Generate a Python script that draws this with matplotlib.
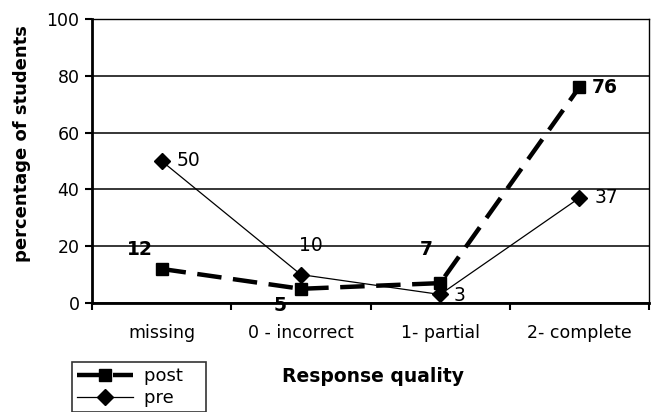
import numpy as np
import matplotlib.pyplot as plt
from matplotlib.lines import Line2D

plt.rcParams['font.family'] = ['DejaVu Sans']

categories = ['missing', '0 - incorrect', '1- partial', '2- complete']
post = [12, 5, 7, 76]
pre = [50, 10, 3, 37]

# label offsets in points (dx, dy) and horizontal alignment
post_lbl = [(-16, 14, 'center'), (-15, -12, 'center'), (-10, 24, 'center'), (9, 0, 'left')]
pre_lbl = [(11, 0, 'left'), (7, 21, 'center'), (10, -1, 'left'), (11, 0, 'left')]

fig = plt.figure(figsize=(6.51, 4.12), dpi=100)
ax = fig.add_axes([92 / 651, 1 - 303 / 412, (649 - 92) / 651, (303 - 19) / 412])

x = np.arange(len(categories))
post_style = dict(color='black', lw=3.2, ls=(0, (5.5, 2.6)), marker='s', ms=9)
pre_style = dict(color='black', lw=0.9, marker='D', ms=8.5)
ax.plot(x, post, label='post', zorder=3, **post_style)
ax.plot(x, pre, label='pre', zorder=4, **pre_style)

for xi, v, (dx, dy, ha) in zip(x, post, post_lbl):
    ax.annotate(str(v), (xi, v), xytext=(dx, dy), textcoords='offset points',
                ha=ha, va='center', fontsize=13.5, fontweight='bold')
for xi, v, (dx, dy, ha) in zip(x, pre, pre_lbl):
    ax.annotate(str(v), (xi, v), xytext=(dx, dy), textcoords='offset points',
                ha=ha, va='center', fontsize=13.5)

ax.set_xlim(-0.5, len(categories) - 0.5)
ax.set_ylim(0, 100)
ax.set_yticks(range(0, 101, 20))
ax.yaxis.grid(True, color='black', lw=1.1)
ax.set_axisbelow(True)

ax.set_xticks(x)
ax.set_xticklabels(categories, fontsize=12.5)
ax.tick_params(axis='x', length=0, pad=15)
ax.set_xticks(np.arange(-0.5, len(categories)), minor=True)
ax.tick_params(axis='x', which='minor', length=5, width=1.5, direction='out')
ax.tick_params(axis='y', length=5, width=1.5, labelsize=12.5, pad=4)

for side in ['left', 'bottom']:
    ax.spines[side].set_linewidth(2)
ax.spines['right'].set_linewidth(1)
ax.spines['top'].set_linewidth(1)

fig.text(22 / 651, 1 - 144 / 412, 'percentage of students', rotation=90,
         ha='center', va='center', fontsize=13, fontweight='bold')
fig.text(373 / 651, 1 - 376 / 412, 'Response quality', ha='center', va='center',
         fontsize=13.5, fontweight='bold')

handles = [Line2D([], [], **post_style), Line2D([], [], **pre_style)]
leg = fig.legend(handles, ['post   ', 'pre   '], loc='upper left',
                 bbox_to_anchor=(72 / 651, 1 - 362 / 412), fontsize=13,
                 frameon=True, fancybox=False, edgecolor='black',
                 handlelength=3.1, handletextpad=0.6, labelspacing=0.2,
                 borderpad=0.3, borderaxespad=0)
leg.get_frame().set_linewidth(1.2)

fig.savefig('out.png', dpi=100)
